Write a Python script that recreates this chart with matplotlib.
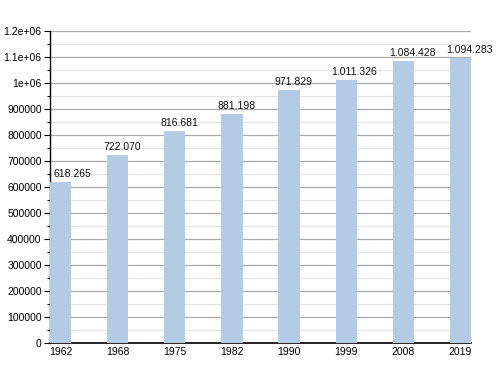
import matplotlib
matplotlib.use("Agg")
import matplotlib.pyplot as plt
from matplotlib.ticker import MultipleLocator, FuncFormatter

years = ["1962", "1968", "1975", "1982", "1990", "1999", "2008", "2019"]
population = [618265, 722070, 816681, 881198, 971829, 1011326, 1084428, 1094283]

plt.rcParams["font.family"] = ["Liberation Sans", "DejaVu Sans"]

fig = plt.figure(figsize=(5.0, 3.73), dpi=100)
ax = fig.add_axes([0.1, 0.08, 0.842, 0.837])

pos = list(range(len(years)))
width = 0.37
ax.bar(pos, population, width=width, color="#b3cbe4", zorder=3)

xmin = -width / 2
for x, v in zip(pos, population):
    label = f"{v:,}".replace(",", ".")
    # labels hang a little to the left of the bar, but stay inside the axes
    lx = max(x - width / 2 - 0.07, xmin + 0.07)
    ax.text(lx, v + 12000, label, ha="left", va="bottom", fontsize=7.5, color="#111111")

ax.set_xlim(xmin, len(years) - 1 + width / 2)
ax.set_ylim(0, 1200000)
ax.set_xticks(pos)
ax.set_xticklabels(years)
ax.yaxis.set_major_locator(MultipleLocator(100000))
ax.yaxis.set_minor_locator(MultipleLocator(50000))
ax.yaxis.set_major_formatter(FuncFormatter(lambda v, p: "%g" % v))

ax.grid(axis="y", which="major", color="#ababab", linewidth=0.9, zorder=0)
ax.grid(axis="y", which="minor", color="#e4e4e4", linewidth=0.9, zorder=0)
ax.set_axisbelow(True)

for s in ["top", "right"]:
    ax.spines[s].set_visible(False)
ax.spines["left"].set_color("black")
ax.spines["bottom"].set_color("black")
ax.spines["left"].set_linewidth(1.0)
ax.spines["bottom"].set_linewidth(1.2)

ax.tick_params(axis="y", which="major", length=4, width=0.8, labelsize=7.5, pad=2)
ax.tick_params(axis="y", which="minor", length=2, width=0.8)
ax.tick_params(axis="x", length=0, labelsize=7.5, pad=3)

fig.savefig("out.png", dpi=100)
